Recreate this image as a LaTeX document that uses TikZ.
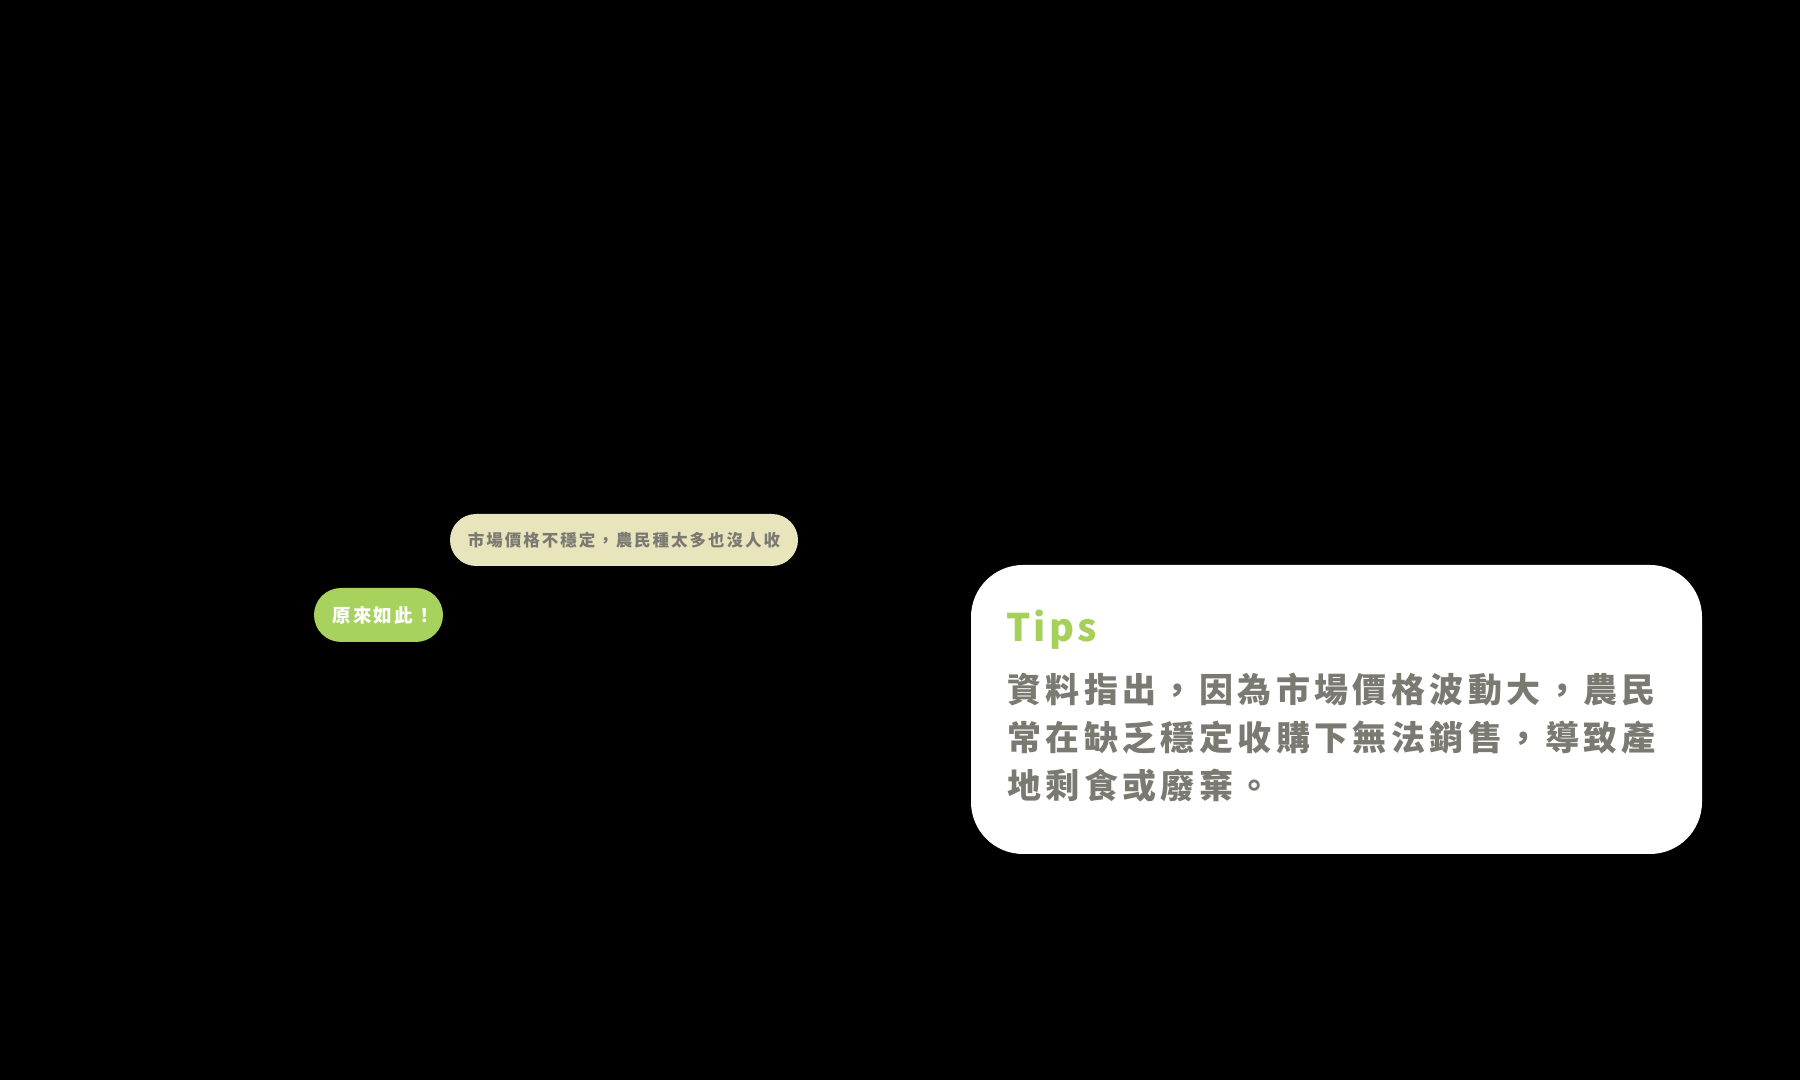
\documentclass[tikz,border=0pt]{standalone}
\usepackage{fontspec}
\newfontfamily\cjkbody{Noto Sans CJK TC}[LetterSpace=13]
\newfontfamily\cjktips{Noto Sans CJK TC}[LetterSpace=9]
\newfontfamily\cjkbubble{Noto Sans CJK TC}[LetterSpace=12]
\definecolor{bgblack}{RGB}{0,0,0}
\definecolor{khaki}{RGB}{232,228,188}
\definecolor{leaf}{RGB}{168,210,94}
\definecolor{tipgreen}{RGB}{165,208,90}
\definecolor{txtgray}{RGB}{122,122,114}
\tikzset{
  bubble/.style={rectangle, inner sep=0pt, align=center},
  bodyline/.style={anchor=base west, inner sep=0pt, text=txtgray,
    font=\cjkbody\bfseries\fontsize{34}{48}\selectfont}
}
\begin{document}
\begin{tikzpicture}[x=1pt,y=1pt]
\fill[bgblack] (0,0) rectangle (1800,1080);
\useasboundingbox (0,0) rectangle (1800,1080);
% bubbles
\node[bubble, fill=khaki, rounded corners=26pt, minimum width=348pt, minimum height=52pt,
  text=txtgray, font=\cjkbubble\bfseries\fontsize{16.5}{20}\selectfont] (b1) at (624,540)
  {市場價格不穩定，農民種太多也沒人收};
\node[bubble, fill=leaf, rounded corners=27pt, minimum width=129pt, minimum height=54pt,
  text=white, font=\cjkbubble\bfseries\fontsize{18.5}{22}\selectfont] (b2) at (378.5,465)
  {\hspace*{9pt}原來如此！};
% tips box
\node[rectangle, fill=white, rounded corners=52pt, minimum width=731pt, minimum height=289pt,
  inner sep=0pt] (tipsbox) at (1336.5,370.5) {};
\node[anchor=base west, inner sep=0pt, text=tipgreen,
  font=\cjktips\bfseries\fontsize{38}{44}\selectfont] (tips) at (1006,438) {Tips};
\node[bodyline] (l1) at (1007,377) {資料指出，因為市場價格波動大，農民};
\node[bodyline] (l2) at (1007,329) {常在缺乏穩定收購下無法銷售，導致產};
\node[bodyline] (l3) at (1007,281) {地剩食或廢棄。};
\end{tikzpicture}
\end{document}
